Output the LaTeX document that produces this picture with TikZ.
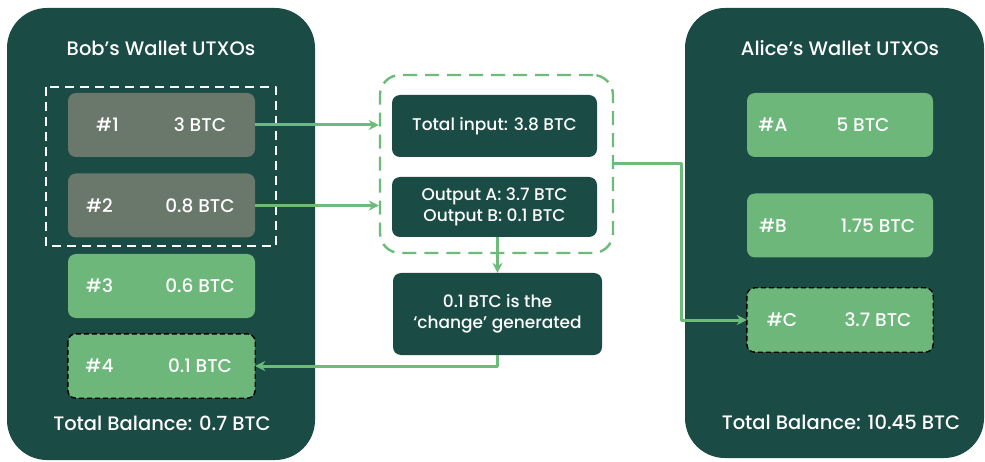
\documentclass[tikz,border=0pt]{standalone}
\usepackage{fontspec}
\IfFontExistsTF{Poppins Medium}
  {\setmainfont{Poppins Medium}}
  {\setmainfont{Poppins}[FakeBold=0.6]}
\usetikzlibrary{positioning,arrows.meta}
\definecolor{panel}{HTML}{1B4B45}
\definecolor{coin}{HTML}{6DB77B}
\definecolor{spent}{HTML}{6A786B}
\definecolor{flow}{HTML}{6DBB79}
\tikzset{
  utxo/.style={rounded corners=8, minimum width=187, minimum height=64, inner sep=0},
  txbox/.style={fill=panel, rounded corners=8, text=white, align=center, inner sep=0,
    font=\fontsize{17}{21.5}\selectfont},
  txt/.style={text=white, inner sep=0},
  head/.style={txt, font=\fontsize{19.5}{20}\selectfont},
  picked/.style={black, line width=1.4pt, dash pattern=on 5pt off 3pt, rounded corners=8},
  arr/.style={flow, line width=3pt, -{Stealth[length=10pt,width=10pt]}},
}
\begin{document}
\begin{tikzpicture}
[x=1pt, y=-1pt, font=\fontsize{18.5}{20}\selectfont, line join=round]
\useasboundingbox (0,0) rectangle (985,462);
\fill[white] (0,0) rectangle (985,462);
% wallets
\fill[panel, rounded corners=40] (7,8) rectangle (315,460);
\fill[panel, rounded corners=40] (685,8) rectangle (984,458);
\node[head] (bobt) at (161,48) {Bob’s Wallet UTXOs};
\node[head] (alit) at (840,48) {Alice’s Wallet UTXOs};
\node[head] (bobb) at (162,423) {Total Balance: 0.7 BTC};
\node[head] (alib) at (841,422) {Total Balance: 10.45 BTC};
% Bob's coins
\foreach \n/\y/\c/\s/\v in {1/125/spent/-54/3 BTC, 2/205.5/spent/-62/0.8 BTC,
  3/286/coin/-62/0.6 BTC, 4/366/coin/-62/0.1 BTC}
{\node[utxo, fill=\c] (b\n) at (161.5,\y) {};
 \node[txt] at ([xshift=\s]b\n) {\#\n};
 \node[txt] at ([xshift=38.5]b\n) {\v};}
\draw[picked] (b4.north west) rectangle (b4.south east);
\draw[white, line width=2pt, dash pattern=on 9pt off 6pt] (46,87) rectangle (276,246);
% Alice's coins
\foreach \n/\y/\s/\r/\v in {A/125/-67/23/5 BTC, B/225.5/-67/38/1.75 BTC, C/320/-58/38/3.7 BTC}
{\node[utxo, fill=coin, minimum width=186] (a\n) at (840,\y) {};
 \node[txt] at ([xshift=\s]a\n) {\#\n};
 \node[txt] at ([xshift=\r]a\n) {\v};}
\draw[picked] (aC.north west) rectangle (aC.south east);
% transaction
\node[draw=flow, line width=2.4pt, dash pattern=on 14pt off 8pt, rounded corners=20,
  minimum width=233, minimum height=178, inner sep=0] (tx) at (496.5,164) {};
\node[txbox, minimum width=205, minimum height=62] (inp) at (494.5,126) {Total input: 3.8 BTC};
\node[txbox, minimum width=205, minimum height=60] (out) at (494.5,207)
  {Output A: 3.7 BTC\\Output B: 0.1 BTC};
\node[txbox, minimum width=209, minimum height=82] (chg) at (497.5,314)
  {0.1 BTC is the\\‘change’ generated};
% flows
\draw[arr] (b1.east) -- (b1.east -| tx.west);
\draw[arr] (b2.east) -- (b2.east -| tx.west);
\draw[arr] (out.south -| chg.north) -- (chg.north);
\draw[arr] (chg.south) |- (b4.east);
\draw[arr] (tx.east) -- ++(67,0) |- (aC.west);
\end{tikzpicture}
\end{document}
